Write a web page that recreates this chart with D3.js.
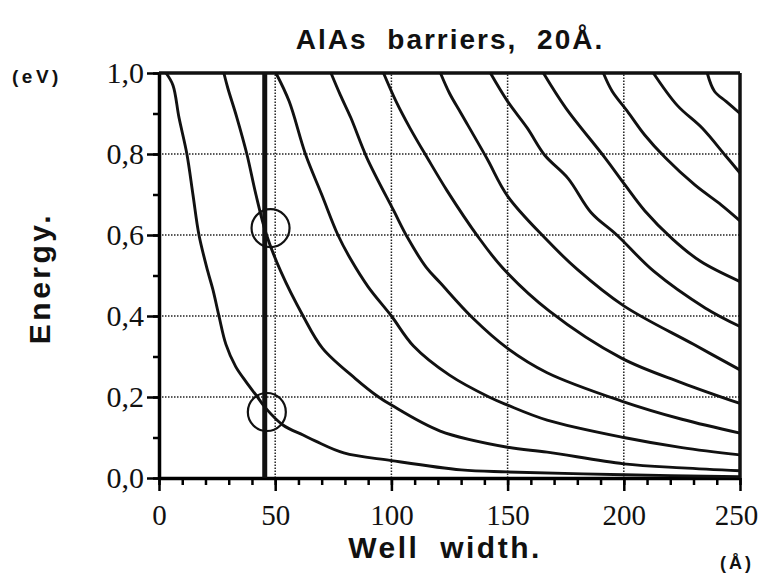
<!DOCTYPE html>
<html>
<head>
<meta charset="utf-8">
<script src="https://cdn.jsdelivr.net/npm/d3@7"></script>
<style>
  html, body { margin: 0; padding: 0; background: #fff; }
  #chart { width: 759px; height: 577px; }
  .lbl { font-family: "Liberation Sans", Arial, sans-serif; font-weight: bold; fill: #111; }
  .tick text { font-family: "Liberation Serif", "Times New Roman", serif; font-size: 30px; fill: #111; }
</style>
</head>
<body>
<div id="chart"></div>
<script>
// energy levels, [well width (Å), energy (eV)]
const level1 = [[3,1.0],[6,0.97],[8.6,0.89],[12,0.8],[14.6,0.70],[17.2,0.6],[21,0.51],[23.2,0.465],[25.8,0.4],[28.8,0.33],[33,0.275],[37.4,0.238],[41.7,0.205],[46,0.172],[53.3,0.131],[62,0.106],[67.4,0.091],[79.5,0.062],[100,0.043],[130,0.02],[150,0.015],[200,0.008],[250,0.003]];
const level2 = [[27.9,1.0],[29.6,0.963],[33.5,0.89],[37.8,0.8],[41.7,0.7],[46,0.605],[52.4,0.51],[62,0.4],[70.4,0.32],[84.6,0.245],[94.5,0.2],[100,0.18],[121,0.116],[150,0.076],[167,0.064],[200,0.035],[225,0.025],[250,0.018]];
const level3 = [[50.3,1.0],[56,0.93],[63,0.8],[70,0.70],[77,0.6],[82.5,0.54],[90,0.472],[100,0.4],[109.5,0.326],[125,0.254],[142,0.2],[150,0.18],[167,0.143],[200,0.10],[225,0.075],[250,0.057]];
const level4 = [[74,1.0],[78,0.946],[82.5,0.89],[89.5,0.79],[101,0.66],[107,0.593],[115,0.52],[121,0.482],[135,0.395],[150,0.32],[167,0.26],[199,0.19],[225,0.145],[250,0.111]];
const level5 = [[96.6,1.0],[102,0.93],[108,0.864],[115.5,0.79],[124,0.709],[137,0.598],[148,0.518],[168,0.412],[199,0.296],[225,0.235],[250,0.184]];
const level6 = [[121.1,1.0],[125,0.95],[130,0.9],[141,0.79],[150,0.696],[166,0.593],[180,0.515],[200,0.425],[230,0.33],[250,0.267]];
const level7 = [[142.6,1.0],[150,0.93],[158.5,0.864],[166,0.797],[176,0.74],[186,0.655],[197,0.6],[213,0.51],[235,0.42],[250,0.374]];
const level8 = [[165.4,1.0],[175,0.914],[192,0.79],[200.6,0.723],[209,0.66],[221,0.59],[233,0.535],[250,0.485]];
const level9 = [[191.2,1.0],[195,0.955],[201.5,0.906],[209,0.847],[218,0.79],[230.7,0.723],[242,0.674],[250,0.635]];
const level10 = [[212.7,1.0],[223,0.92],[233.7,0.864],[243.6,0.797],[250,0.753]];
const level11 = [[235.9,1.0],[239,0.955],[244,0.93],[250,0.9]];
const levels = [level1, level2, level3, level4, level5, level6, level7, level8, level9, level10, level11];

// the marked well width and the two circled levels
const markWidth = 45.5;
const circled = [[48, 0.617], [46.4, 0.163]];

const xTickValues = [0, 50, 100, 150, 200, 250];
const xTickLabels = ["0", "50", "100", "150", "200", "250"];
const yTickValues = [0, 0.2, 0.4, 0.6, 0.8, 1.0];
const yTickLabels = ["0,0", "0,2", "0,4", "0,6", "0,8", "1,0"];
const xMinor = d3.range(0, 251, 10);
const yMinor = d3.range(0, 1.01, 0.1);
const xGrid = [50, 100, 150, 200];
const yGrid = [0.2, 0.4, 0.6, 0.8];

const svg = d3.select("#chart").append("svg")
    .attr("width", 759).attr("height", 577);

const x = d3.scaleLinear().domain([0, 250]).range([159, 740]);
const y = d3.scaleLinear().domain([0, 1]).range([478, 73]);

// dotted grid
svg.append("g").selectAll("line").data(yGrid).join("line")
    .attr("x1", x(0)).attr("x2", x(250))
    .attr("y1", d => y(d)).attr("y2", d => y(d))
    .attr("stroke", "#222").attr("stroke-width", 1.5).attr("stroke-dasharray", "1.5,1.5");
svg.append("g").selectAll("line").data(xGrid).join("line")
    .attr("x1", d => x(d)).attr("x2", d => x(d))
    .attr("y1", y(0)).attr("y2", y(1))
    .attr("stroke", "#222").attr("stroke-width", 1.5).attr("stroke-dasharray", "1.5,1.5");

// minor ticks
svg.append("g").attr("transform", "translate(0," + y(0) + ")")
    .call(d3.axisBottom(x).tickValues(xMinor).tickSize(7).tickSizeOuter(0).tickFormat(""))
    .call(g => g.selectAll("line").attr("stroke-width", 2.5))
    .call(g => g.select(".domain").remove());
svg.append("g").attr("transform", "translate(" + x(0) + ",0)")
    .call(d3.axisLeft(y).tickValues(yMinor).tickSize(6).tickSizeOuter(0).tickFormat(""))
    .call(g => g.selectAll("line").attr("stroke-width", 2.5))
    .call(g => g.select(".domain").remove());

// major axes
svg.append("g").attr("transform", "translate(0," + y(0) + ")")
    .call(d3.axisBottom(x).tickValues(xTickValues).tickSize(13).tickSizeOuter(0).tickPadding(13)
        .tickFormat((d, i) => xTickLabels[i]))
    .call(g => g.selectAll("line").attr("stroke-width", 2.5))
    .call(g => g.select(".domain").attr("stroke-width", 3.5))
    .call(g => g.selectAll("text").style("font-size", "29px"))
    .call(g => g.selectAll(".tick:last-of-type text").attr("dx", -4));
svg.append("g").attr("transform", "translate(" + x(0) + ",0)")
    .call(d3.axisLeft(y).tickValues(yTickValues).tickSize(12).tickSizeOuter(0).tickPadding(3)
        .tickFormat((d, i) => yTickLabels[i]))
    .call(g => g.selectAll("line").attr("stroke-width", 2.5))
    .call(g => g.select(".domain").attr("stroke-width", 3.5));

// frame top and right
svg.append("line")
    .attr("x1", x(0)).attr("x2", x(250)).attr("y1", y(1)).attr("y2", y(1))
    .attr("stroke", "#111").attr("stroke-width", 3.5);
svg.append("line")
    .attr("x1", x(250)).attr("x2", x(250)).attr("y1", y(1)).attr("y2", y(0))
    .attr("stroke", "#111").attr("stroke-width", 3.5);

// levels
const line = d3.line()
    .x(d => x(d[0]))
    .y(d => y(d[1]))
    .curve(d3.curveCatmullRom.alpha(0.5));

svg.append("g").selectAll("path").data(levels).join("path")
    .attr("d", line)
    .attr("fill", "none")
    .attr("stroke", "#111")
    .attr("stroke-width", 2.9);

// marked well width
svg.append("line")
    .attr("x1", x(markWidth)).attr("x2", x(markWidth))
    .attr("y1", y(0)).attr("y2", y(1))
    .attr("stroke", "#111").attr("stroke-width", 5);

svg.append("g").selectAll("circle").data(circled).join("circle")
    .attr("cx", d => x(d[0])).attr("cy", d => y(d[1]))
    .attr("r", 19)
    .attr("fill", "none").attr("stroke", "#111").attr("stroke-width", 2.2);

// texts
svg.append("text").attr("class", "lbl")
    .attr("x", 450).attr("y", 49).attr("text-anchor", "middle")
    .style("font-size", "28px").style("letter-spacing", "2px").style("word-spacing", "10px")
    .text("AlAs barriers, 20Å.");
svg.append("text").attr("class", "lbl")
    .attr("x", 12).attr("y", 83)
    .style("font-size", "19px").style("letter-spacing", "3.5px")
    .text("(eV)");
svg.append("text").attr("class", "lbl")
    .attr("transform", "translate(50,278) rotate(-90)").attr("text-anchor", "middle")
    .style("font-size", "30px").style("letter-spacing", "3.5px")
    .text("Energy.");
svg.append("text").attr("class", "lbl")
    .attr("x", 445).attr("y", 558).attr("text-anchor", "middle")
    .style("font-size", "30px").style("letter-spacing", "2.5px").style("word-spacing", "10px")
    .text("Well width.");
svg.append("text").attr("class", "lbl")
    .attr("x", 737).attr("y", 569).attr("text-anchor", "middle")
    .style("font-size", "18px").style("letter-spacing", "3px")
    .text("(Å)");
</script>
</body>
</html>
